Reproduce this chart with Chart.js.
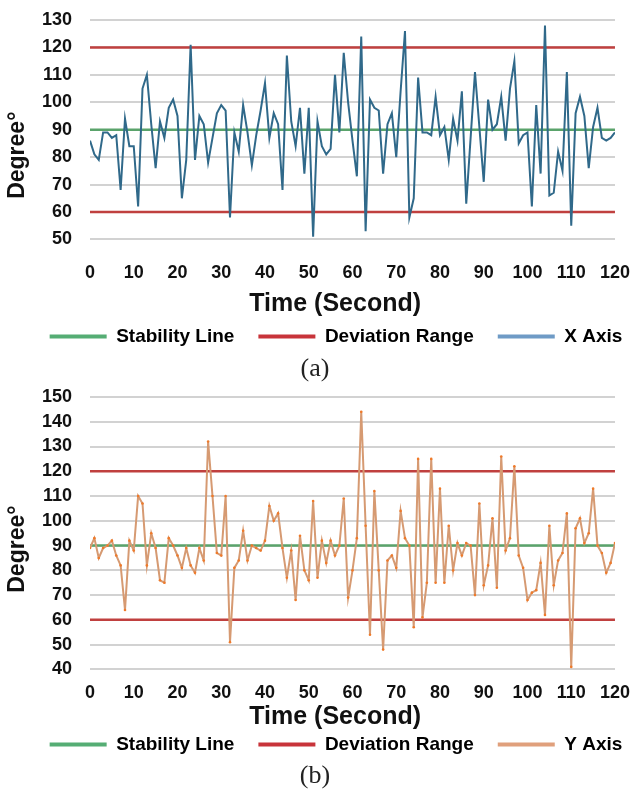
<!DOCTYPE html>
<html>
<head>
<meta charset="utf-8">
<title>Stability of X and Y axis</title>
<script src="https://cdn.jsdelivr.net/npm/chart.js@4.4.1/dist/chart.umd.min.js"></script>
<style>
    body { margin: 0; background: #fff; width: 630px; height: 790px; position: relative; overflow: hidden; }
    .panel { position: absolute; left: 0; width: 630px; }
    .caption {
        position: absolute; left: 0; width: 630px; text-align: center;
        font-family: 'Liberation Serif', serif; font-size: 26px; line-height: 30px; color: #222;
    }
</style>
</head>
<body>
<div class="panel" style="top:0;height:356px"><canvas id="chartA"></canvas></div>
<div class="caption" style="top:353px">(a)</div>
<div class="panel" style="top:377px;height:387px"><canvas id="chartB"></canvas></div>
<div class="caption" style="top:760px">(b)</div>

<script>
// Readings per second, 0..120 s
const xAxisDeg = [
    86, 81, 79, 89, 89, 87, 88, 68, 94, 84,
    84, 62, 105, 110, 92, 76, 93, 87, 98, 101,
    95, 65, 79, 121, 79, 95, 92, 78, 87, 96,
    99, 97, 58, 89, 82, 99, 89, 77, 88, 97,
    107, 87, 96, 92, 68, 117, 93, 84, 98, 74,
    98, 51, 93, 84, 81, 83, 110, 89, 118, 100,
    86, 73, 124, 53, 101, 98, 97, 74, 92, 96,
    80, 104, 126, 58, 65, 109, 89, 89, 88, 102,
    88, 91, 79, 94, 86, 104, 63, 87, 111, 91,
    71, 101, 90, 92, 102, 86, 105, 115, 85, 88,
    89, 62, 99, 74, 128, 66, 67, 82, 75, 111,
    55, 96, 102, 95, 76, 91, 98, 87, 86, 87,
    89
];

const yAxisDeg = [
    89, 93, 85, 89, 90, 92, 86, 82, 64, 92,
    88, 110, 107, 82, 95, 89, 76, 75, 93, 90,
    86, 81, 89, 82, 79, 89, 84, 132, 110, 87,
    86, 110, 51, 81, 84, 96, 84, 90, 89, 88,
    92, 106, 100, 103, 89, 77, 88, 68, 94, 80,
    76, 108, 77, 92, 83, 92, 86, 90, 109, 69,
    80, 93, 144, 98, 54, 112, 80, 48, 84, 86,
    81, 104, 93, 90, 57, 125, 61, 75, 125, 75,
    113, 75, 98, 80, 91, 86, 91, 90, 70, 107,
    74, 82, 101, 73, 126, 88, 93, 122, 86, 81,
    68, 71, 72, 83, 62, 98, 74, 84, 87, 103,
    41, 97, 101, 91, 95, 113, 90, 87, 79, 83,
    91
];

const seconds = xAxisDeg.map((_, i) => i); // one sample every second
const timeRange = [0, 120];
const stabilityLevel = 90;
const deviationLimits = [60, 120];
const yRangeA = [50, 130];
const yRangeB = [40, 150];
const legendNames = ['Stability Line', 'Deviation Range'];

const FONT = "'Liberation Sans', Arial, sans-serif";
const INK = '#111';
const CLEAR = 'rgba(0,0,0,0)';
const NBSP = '\u00a0';
Chart.defaults.font.family = FONT;
Chart.defaults.color = INK;

// move the legend sideways without touching the plot area
const legendShift = {
    id: 'legendShift',
    afterLayout(chart, args, opts) {
        const dx = opts.dx || 0;
        chart.legend.left += dx;
        chart.legend.right += dx;
    }
};

function buildChart(canvasId, cfg) {
    const points = cfg.values.map((v, i) => ({ x: seconds[i], y: v }));
    const flat = level => timeRange.map(t => ({ x: t, y: level }));
    const refLine = (label, level, color) => ({
        label, data: flat(level), borderColor: color, borderWidth: 2.5,
        pointRadius: 0, order: 1
    });
    const names = legendNames.concat(cfg.seriesName);

    return new Chart(document.getElementById(canvasId), {
        type: 'line',
        data: {
            datasets: [
                refLine('Stability Line', stabilityLevel, '#5aa36b'),
                refLine('Deviation Range', deviationLimits[1], '#c0403f'),
                refLine('Deviation Range', deviationLimits[0], '#c0403f'),
                {
                    label: cfg.seriesName,
                    data: points,
                    borderColor: cfg.lineColor,
                    borderWidth: 2,
                    pointRadius: cfg.pointRadius,
                    pointBackgroundColor: cfg.pointColor,
                    pointBorderWidth: 0,
                    tension: 0,
                    order: 0
                }
            ]
        },
        options: {
            responsive: true,
            maintainAspectRatio: false,
            animation: false,
            devicePixelRatio: 1,
            layout: { padding: { top: 20, left: 0, right: 0, bottom: 0 } },
            plugins: {
                tooltip: { enabled: false },
                legendShift: { dx: 21 },
                legend: {
                    position: 'bottom',
                    labels: {
                        boxWidth: 57,
                        boxHeight: 4,
                        padding: 24,
                        color: INK,
                        font: { size: 19, weight: 'bold' },
                        generateLabels: () => names.map((text, i) => ({
                            text,
                            fillStyle: cfg.legendColors[i],
                            strokeStyle: cfg.legendColors[i],
                            lineWidth: 0,
                            hidden: false,
                            datasetIndex: i
                        }))
                    }
                }
            },
            scales: {
                x: {
                    type: 'linear',
                    min: timeRange[0],
                    max: timeRange[1],
                    // invisible tick marks give the gap under the plot
                    grid: {
                        display: true, drawOnChartArea: false, drawTicks: true,
                        tickLength: cfg.xTickGap, color: CLEAR, tickColor: CLEAR
                    },
                    border: { display: false },
                    ticks: {
                        stepSize: 10,
                        padding: 0,
                        maxRotation: 0,
                        autoSkip: false,
                        color: INK,
                        font: { size: 18, weight: 'bold' }
                    },
                    title: {
                        display: true,
                        // original title sits a little left of the plot centre
                        text: 'Time (Second)' + NBSP.repeat(5),
                        color: INK,
                        font: { size: 25, weight: 'bold' },
                        padding: { top: cfg.xTitlePad[0], bottom: cfg.xTitlePad[1] }
                    }
                },
                y: {
                    min: cfg.yRange[0],
                    max: cfg.yRange[1],
                    afterFit: scale => { scale.width = 90; },
                    grid: {
                        color: '#d2d2d2', lineWidth: 2,
                        drawTicks: true, tickLength: 18, tickColor: CLEAR
                    },
                    border: { display: false },
                    ticks: {
                        stepSize: 10,
                        padding: 0,
                        autoSkip: false,
                        color: INK,
                        font: { size: 18, weight: 'bold' }
                    },
                    title: {
                        display: true,
                        // trailing spaces push the word a bit lower, like the original
                        text: 'Degree°' + NBSP.repeat(cfg.titleSpaces),
                        color: INK,
                        font: { size: 23, weight: 'bold' },
                        padding: { top: 4, bottom: 0 }
                    }
                }
            }
        },
        plugins: [legendShift]
    });
}

buildChart('chartA', {
    values: xAxisDeg,
    seriesName: 'X Axis',
    lineColor: '#30698a',
    pointRadius: 0,
    pointColor: '#30698a',
    legendColors: ['#55ad74', '#c8343a', '#6f9bc6'],
    yRange: yRangeA,
    xTickGap: 23,
    xTitlePad: [5, -16],
    titleSpaces: 8
});

buildChart('chartB', {
    values: yAxisDeg,
    seriesName: 'Y Axis',
    lineColor: '#d69a72',
    pointRadius: 1.3,
    pointColor: '#ef7a2a',
    legendColors: ['#55ad74', '#c8343a', '#e0a07c'],
    yRange: yRangeB,
    xTickGap: 13,
    xTitlePad: [-2, -21],
    titleSpaces: 5
});
</script>
</body>
</html>
